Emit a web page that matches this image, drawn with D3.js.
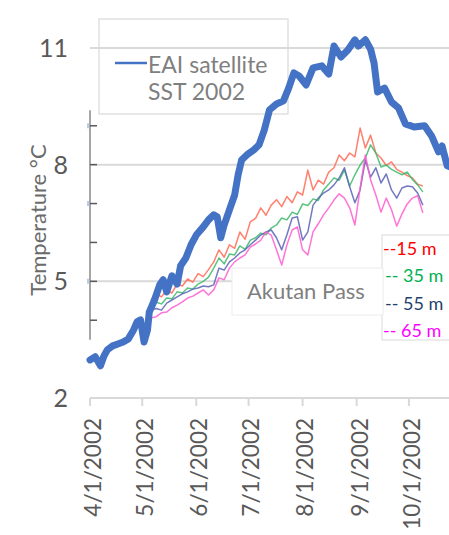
<!DOCTYPE html>
<html><head><meta charset="utf-8">
<script src="https://cdn.jsdelivr.net/npm/d3@7"></script>
<style>body{margin:0;background:#fff}svg{display:block;font-family:Lato,"Open Sans",sans-serif}</style>
</head><body><svg id="c" width="449" height="535"></svg>
<script>
// ---------- data ----------
const sstDays = [0,3,6,8,10,13,16,19,22,25,27,29,31,33,34,37,40,42,44,47,50,52,55,58,61,65,68,71,73,75,77,80,83,85,87,90,94,97,100,103,107,111,114,117,120,124,128,133,137,140,144,148,152,154,158,161,163,165,169,173,177,181,186,192,196,200,202,205,208];
const sstTemp = [2.98,3.06,2.83,3.08,3.24,3.34,3.39,3.44,3.52,3.75,3.96,4.01,3.44,3.75,4.21,4.52,4.91,5.04,4.73,5.14,4.93,5.40,5.60,5.94,6.19,6.40,6.58,6.71,6.66,6.12,6.45,6.84,7.22,7.74,8.12,8.25,8.38,8.51,8.89,9.41,9.56,9.64,9.97,10.36,10.28,10.05,10.49,10.54,10.33,11.05,10.77,10.95,11.21,11.05,11.21,10.97,10.61,9.87,9.97,9.61,9.46,9.05,8.97,9.00,8.74,8.33,8.48,7.97,7.92];

const mooringStart = "2002-05-06";
const mooringStepDays = 3;
const temp15m = [4.52,4.68,4.60,4.78,4.70,4.93,4.88,5.06,4.98,5.20,5.12,5.30,5.50,5.81,5.62,5.94,5.85,6.27,6.08,6.53,6.62,6.89,6.70,6.96,7.10,6.92,7.18,7.02,7.30,7.22,7.86,7.35,7.60,7.50,7.81,7.92,8.25,8.10,8.30,8.20,8.94,8.43,8.76,8.30,8.17,7.98,8.07,7.88,7.81,7.72,7.66,7.50,7.45];
const temp35m = [4.39,4.46,4.42,4.57,4.55,4.73,4.70,4.83,4.80,4.93,5.00,5.11,5.34,5.60,5.45,5.70,5.68,5.91,5.82,6.06,6.12,6.24,6.20,6.37,6.45,6.63,6.58,6.78,6.72,6.99,6.95,7.12,7.08,7.35,7.50,7.66,7.60,7.86,7.45,7.74,7.99,8.17,8.51,8.30,7.94,7.99,7.88,7.81,7.74,7.81,7.62,7.48,7.30];
const temp55m = [4.26,4.30,4.26,4.44,4.52,4.60,4.68,4.73,4.80,4.83,4.88,4.86,4.91,5.34,5.29,5.50,5.60,5.73,5.81,5.94,6.06,6.19,6.27,6.32,6.12,5.81,6.20,6.63,6.66,6.06,6.27,6.96,7.14,7.27,7.35,7.48,7.66,7.92,7.43,7.02,7.35,8.12,7.68,7.92,7.53,7.76,7.35,7.14,7.40,7.45,7.43,7.27,6.96];
const temp65m = [4.06,4.09,4.19,4.21,4.32,4.39,4.47,4.57,4.62,4.70,4.78,4.65,4.78,5.09,5.04,5.34,5.50,5.60,5.68,5.88,5.96,6.06,6.27,6.19,5.81,5.42,5.94,6.32,6.40,5.81,5.68,6.27,6.48,6.71,6.89,7.09,7.25,7.14,6.89,6.45,7.40,8.25,7.61,7.22,6.78,7.14,6.84,6.42,6.73,6.99,7.14,7.20,6.76];

const yTickValues = [2,5,8,11];
const gridValues = [5,8,11];
const innerTickValues = [4,5,6,7,8,9];
const xTickDates = ["2002-04-01","2002-05-01","2002-06-01","2002-07-01","2002-08-01","2002-09-01","2002-10-01"];
const xTickLabels = ["4/1/2002","5/1/2002","6/1/2002","7/1/2002","8/1/2002","9/1/2002","10/1/2002"];
const legendLines = ["EAI satellite","SST 2002"];
const depthLabels = ["--15 m","-- 35 m","-- 55 m","-- 65 m"];
const depthColors = ["#ff6a55","#3cb96a","#5a62b5","#ff5cd0"];
const depthLabelColors = ["#ff0000","#00b050","#1f3f6e","#ff00ff"];

// ---------- scales ----------
const parse = d3.utcParse("%Y-%m-%d");
const t0 = parse("2002-04-01");
const x = d3.scaleUtc().domain([t0, parse("2002-10-24")]).range([90, 449]);
const y = d3.scaleLinear().domain([2, 11]).range([398, 48]);

const svg = d3.select("#c");
svg.append("rect").attr("width",449).attr("height",535).attr("fill","#fff");
svg.append("defs").append("clipPath").attr("id","plot")
  .append("rect").attr("x",80).attr("y",0).attr("width",369).attr("height",420);

// gridlines
svg.append("g").selectAll("line").data(gridValues).join("line")
  .attr("x1",90).attr("x2",449).attr("y1",d=>y(d)).attr("y2",d=>y(d))
  .attr("stroke","#d9d9d9").attr("stroke-width",2);

// x axis
const xa = svg.append("g");
xa.append("line").attr("x1",90).attr("x2",449).attr("y1",y(2)).attr("y2",y(2))
  .attr("stroke","#d9d9d9").attr("stroke-width",2);
xa.selectAll("line.t").data(xTickDates).join("line").attr("class","t")
  .attr("x1",d=>x(parse(d))).attr("x2",d=>x(parse(d)))
  .attr("y1",y(2)).attr("y2",y(2)+8).attr("stroke","#d9d9d9").attr("stroke-width",2);
xa.selectAll("text").data(xTickDates).join("text")
  .attr("transform",d=>`translate(${x(parse(d))+3},418) rotate(-90)`)
  .attr("text-anchor","end").attr("dy","0.35em")
  .attr("font-size",22.5).attr("fill","#595959")
  .text((d,i)=>xTickLabels[i]);

// y tick labels
svg.append("g").selectAll("text").data(yTickValues).join("text")
  .attr("x",68).attr("y",d=>y(d)).attr("dy","0.36em").attr("text-anchor","end")
  .attr("font-size",25).attr("fill","#595959").text(d=>d);

// y title
svg.append("text").attr("transform","translate(38,220) rotate(-90)")
  .attr("text-anchor","middle").attr("dy","0.35em").attr("font-size",22)
  .attr("fill","#6b6b6b").text("Temperature \u00B0C");

// inner (mooring) axis
const ia = svg.append("g");
ia.append("line").attr("x1",90).attr("x2",90).attr("y1",y(9.4)).attr("y2",y(3.5))
  .attr("stroke","#a6a6a6").attr("stroke-width",2);
ia.selectAll("line.t").data(innerTickValues).join("line").attr("class","t")
  .attr("x1",90).attr("x2",97).attr("y1",d=>y(d)).attr("y2",d=>y(d))
  .attr("stroke","#595959").attr("stroke-width",1.5);
ia.selectAll("line.b").data([9,7,5]).join("line").attr("class","b")
  .attr("x1",88).attr("x2",88).attr("y1",d=>y(d)-2.5).attr("y2",d=>y(d)+2.5)
  .attr("stroke","#4472c4").attr("stroke-width",1.2).attr("opacity",0.6);

// mooring lines
const mStart = parse(mooringStart);
const mDate = i => d3.utcDay.offset(mStart, i*mooringStepDays);
const line = d3.line().x(d=>x(d[0])).y(d=>y(d[1]));
const series = [temp15m,temp35m,temp55m,temp65m];
const gm = svg.append("g").attr("clip-path","url(#plot)");
series.forEach((s,k)=>{
  gm.append("path").datum(s.map((v,i)=>[mDate(i),v]))
    .attr("d",line).attr("fill","none").attr("stroke",depthColors[k])
    .attr("stroke-width",1.5).attr("stroke-opacity",0.85).attr("stroke-linejoin","round");
});

// legend box
const lg = svg.append("g");
lg.append("rect").attr("x",99).attr("y",19).attr("width",189).attr("height",95)
  .attr("fill","none").attr("stroke","#d9d9d9").attr("stroke-width",1.2);
lg.append("line").attr("x1",115).attr("x2",147).attr("y1",63).attr("y2",63)
  .attr("stroke","#4472c4").attr("stroke-width",2.5);
lg.selectAll("text").data(legendLines).join("text")
  .attr("x",148).attr("y",(d,i)=>73+i*27).attr("font-size",23).attr("fill","#7f7f7f").text(d=>d);

// SST line
svg.append("g").attr("clip-path","url(#plot)").append("path")
  .datum(sstDays.map((d,i)=>[d3.utcDay.offset(t0,d), sstTemp[i]]))
  .attr("d",line).attr("fill","none").attr("stroke","#4472c4")
  .attr("stroke-width",7).attr("stroke-linejoin","round").attr("stroke-linecap","round");

// depth labels box
svg.append("rect").attr("x",382).attr("y",235).attr("width",70).attr("height",105)
  .attr("fill","#fff").attr("stroke","#d9d9d9").attr("stroke-width",1);
// Akutan Pass box
svg.append("rect").attr("x",232).attr("y",268).attr("width",151).attr("height",47)
  .attr("fill","#fff").attr("stroke","#ececec").attr("stroke-width",1);
svg.append("text").attr("x",247).attr("y",299).attr("font-size",22).attr("fill","#7f7f7f").text("Akutan Pass");

svg.append("g").selectAll("text").data(depthLabels).join("text")
  .attr("x",(d,i)=>(i===1||i===2)?385:383).attr("y",(d,i)=>255+i*27.3)
  .attr("font-size",18).attr("fill",(d,i)=>depthLabelColors[i]).text(d=>d);
</script></body></html>
